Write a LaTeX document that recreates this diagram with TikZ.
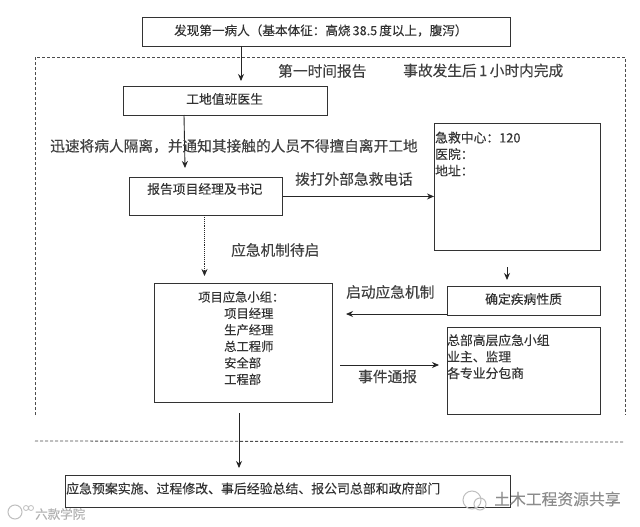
\documentclass[tikz,border=0pt]{standalone}
\usepackage{fontspec}
\setmainfont{Noto Sans CJK SC}[FakeBold=0.12]
\usetikzlibrary{arrows.meta}
\tikzset{
  x=1pt,y=-1pt,
  boxn/.style={draw=black!80,line width=0.9pt,fill=white,anchor=north west,inner sep=0pt},
  lab/.style={inner sep=0pt,font=\fontsize{12.8}{14}\selectfont,text=black!80,anchor=west},
  mline/.style={inner sep=0pt,font=\fontsize{12.8}{16.5}\selectfont,text=black!80,anchor=north west,align=left},
  big/.style={inner sep=0pt,font=\fontsize{14.7}{16}\selectfont,text=black!75,anchor=west},
  arr/.style={draw=black!85,line width=0.9pt,-{Stealth[length=7pt,width=6pt]}},
  dash1/.style={draw=black!70,line width=0.8pt,dash pattern=on 3pt off 2pt},
  mark1/.style={inner sep=0pt,font=\fontsize{15.8}{16}\selectfont,text=black!45,anchor=west},
  icon/.style={draw=black!25,line width=1pt},
}
\begin{document}
\begin{tikzpicture}
\useasboundingbox (0,0) rectangle (640,527);
\fill[white] (0,0) rectangle (640,527);
\draw[dash1] (35,415) -- (35,57) -- (625,57) -- (625,415);
\draw[dash1] (35,441) -- (623,442);
\node[boxn,minimum width=368pt,minimum height=29pt] (a) at (142,17) {};
\node[lab,font=\fontsize{12.6}{14}\selectfont] (at) at (174,30.5) {发现第一病人（基本体征：高烧\,38.5\,度以上，腹泻）};
\node[boxn,minimum width=204pt,minimum height=29pt] (b) at (123,86) {};
\node[lab] (bt) at (186,99) {工地值班医生};
\node[boxn,minimum width=153pt,minimum height=38pt] (c) at (129,177) {};
\node[lab] (ct) at (147,189) {报告项目经理及书记};
\node[boxn,minimum width=166pt,minimum height=127pt] (d) at (434,123) {};
\node[mline] (dt) at (435,131.5) {急救中心：120\\医院：\\地址：};
\node[boxn,minimum width=178pt,minimum height=119pt] (e) at (154,283) {};
\node[mline,font=\fontsize{12.3}{16.5}\selectfont] (et) at (198,291) {项目应急小组：};
\node[mline,font=\fontsize{12.3}{16.5}\selectfont] (et2) at (224,307.5) {项目经理\\生产经理\\总工程师\\安全部\\工程部};
\node[boxn,minimum width=153pt,minimum height=29pt] (f) at (447,286) {};
\node[lab] (ft) at (485,299) {确定疾病性质};
\node[boxn,minimum width=153pt,minimum height=87pt] (g) at (447,327) {};
\node[mline] (gt) at (447,334) {总部高层应急小组\\业主、监理\\各专业分包商};
\node[boxn,minimum width=445pt,minimum height=32pt] (h) at (65,475) {};
\node[lab,font=\fontsize{12.9}{14}\selectfont] (ht) at (66,488.5) {应急预案实施、过程修改、事后经验总结、报公司总部和政府部门};
\coordinate (a1) at (241,46); \coordinate (a2) at (241,81);
\coordinate (b1) at (184,115); \coordinate (b2) at (185,168);
\coordinate (c1) at (204.5,215); \coordinate (c2) at (204.5,276);
\coordinate (d1) at (507,267); \coordinate (d2) at (507,280);
\coordinate (e1) at (239,413); \coordinate (e2) at (239,468);
\coordinate (f1) at (447,314); \coordinate (f2) at (346,314);
\coordinate (g1) at (340,365); \coordinate (g2) at (439,365);
\draw[arr] (a1) -- (a2);
\draw[arr] (b1) -- (b2);
\draw[arr] (c.east) -- (c.east -| d.west);
\draw[arr,densely dotted,line width=0.7pt] (c1) -- (c2);
\draw[arr] (d1) -- (d2);
\draw[arr] (f1) -- (f2);
\draw[arr] (g1) -- (g2);
\draw[arr] (e1) -- (e2);
\node[big] (l1) at (278,71) {第一时间报告};
\node[big] (l2) at (403,70.5) {事故发生后\,1\,小时内完成};
\node[big] (l3) at (50,146) {迅速将病人隔离，并通知其接触的人员不得擅自离开工地};
\node[big] (l4) at (295,179) {拨打外部急救电话};
\node[big] (l5) at (231,250) {应急机制待启};
\node[big] (l6) at (346,292) {启动应急机制};
\node[big] (l7) at (358,376.5) {事件通报};
\draw[icon] (472,500) circle (9);
\draw[icon] (480,504) circle (6);
\draw[icon] (15,512) circle (7);
\draw[icon,line width=0.8pt] (26,508) circle (2.5) (31,508) circle (2.5);
\node[mark1] (w1) at (494,499) {土木工程资源共享};
\node[mark1,font=\fontsize{12.5}{14}\selectfont,text=black!30] (w2) at (35,514) {六款学院};
\end{tikzpicture}
\end{document}
